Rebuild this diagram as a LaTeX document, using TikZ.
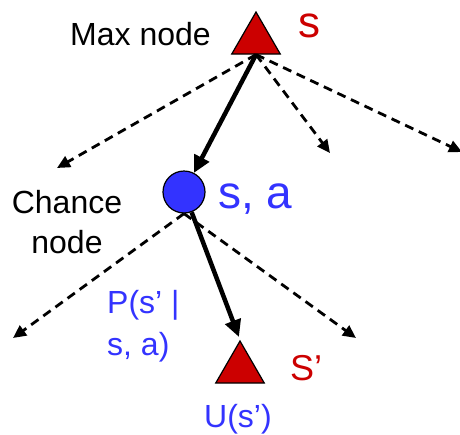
\documentclass[tikz,border=0pt]{standalone}
\usepackage{fontspec}
\setmainfont{Liberation Sans}
\usepackage{tikz}
\usetikzlibrary{arrows.meta,shapes.geometric}
\definecolor{maxred}{RGB}{204,0,0}
\definecolor{chblue}{RGB}{51,51,255}

\begin{document}
\begin{tikzpicture}[x=1pt,y=-1pt,
  maxnode/.style={regular polygon,regular polygon sides=3,draw=black,line width=1.2pt,
    fill=maxred,inner sep=0pt,minimum size=56pt},
  chnode/.style={circle,draw=black,line width=1.2pt,fill=chblue,inner sep=0pt,minimum size=42pt},
  bold/.style={line width=4.5pt,-{Triangle[length=17pt,width=16pt]}},
  dashedge/.style={line width=2.8pt,dash pattern=on 9pt off 6pt,-{Triangle[length=13pt,width=12pt]}},
  lbl/.style={inner sep=0pt,font=\fontsize{32}{40}\selectfont}]
\useasboundingbox (0,0) rectangle (460,434);
% nodes
\node[maxnode] (smax) at (256,40) {};
\node[chnode] (chance) at (184,192) {};
\node[maxnode] (sprime) at (240,369) {};
\coordinate (l1) at (57,168);
\coordinate (l2) at (330,153);
\coordinate (l3) at (462,152);
\coordinate (m1) at (13,338);
\coordinate (m2) at (356,338);
% edges
\draw[dashedge] (smax.side 2) -- (l1);
\draw[dashedge] (smax.side 2) -- (l2);
\draw[dashedge] (smax.side 2) -- (l3);
\draw[bold] (smax.side 2) -- (chance);
\draw[dashedge] (chance.south) -- (m1);
\draw[dashedge] (chance.south) -- (m2);
\draw[bold,shorten >=3pt] (chance) -- (sprime.corner 1);
% labels
\node[lbl,anchor=base west] (maxlbl) at (70,45) {Max node};
\node[lbl,anchor=base west,text=maxred,font=\fontsize{44}{50}\selectfont] (slbl) at (298,37) {s};
\node[lbl,anchor=base west,text=chblue,font=\fontsize{46}{50}\selectfont] (salbl) at (218,208) {s, a};
\node[lbl,anchor=base,align=center] (chlbl) at (67,253) {Chance\\node};
\node[lbl,anchor=base west,align=left,text=chblue,font=\fontsize{32}{42}\selectfont] (plbl) at (107,355) {P(s’ |\\s, a)};
\node[lbl,anchor=base west,text=maxred,font=\fontsize{36}{40}\selectfont] (splbl) at (290,380) {S’};
\node[lbl,anchor=base,text=chblue] (ulbl) at (238,427) {U(s’)};
\end{tikzpicture}
\end{document}
